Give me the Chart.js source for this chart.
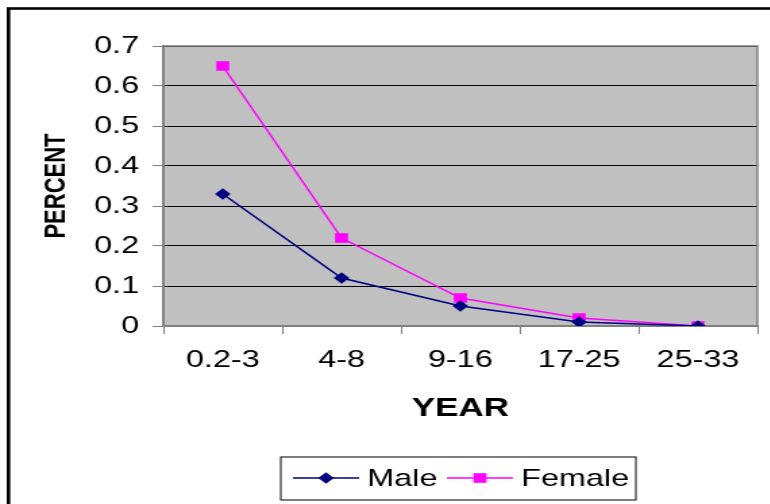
<!DOCTYPE html>
<html>
<head>
<meta charset="utf-8">
<script src="https://cdn.jsdelivr.net/npm/chart.js@4"></script>
<style>
html, body { margin: 0; padding: 0; background: #fff; overflow: hidden; }
/* the reference is horizontally stretched, so the chart is drawn narrow and widened */
#chart { display: block; transform: scaleX(1.35); transform-origin: 0 0; }
</style>
</head>
<body>
<canvas id="chart" width="570" height="504"></canvas>
<script>
const categories = ['0.2-3', '4-8', '9-16', '17-25', '25-33'];
const maleValues = [0.33, 0.12, 0.05, 0.01, 0.0];
const femaleValues = [0.65, 0.22, 0.07, 0.02, 0.0];
const yTickValues = [0, 0.1, 0.2, 0.3, 0.4, 0.5, 0.6, 0.7];

const FONT = '"Liberation Sans", Arial, sans-serif';

const plotBackground = {
    id: 'plotBackground',
    beforeDraw(chart) {
        const { ctx, chartArea: a } = chart;
        ctx.save();
        ctx.fillStyle = '#fff';
        ctx.fillRect(0, 0, chart.width, chart.height);
        ctx.strokeStyle = '#000';
        ctx.lineWidth = 2.6;
        ctx.strokeRect(6.3, 8.5, chart.width + 20, chart.height + 20);
        ctx.fillStyle = '#c0c0c0';
        ctx.fillRect(a.left, a.top, a.right - a.left, a.bottom - a.top);
        ctx.restore();
    },
    beforeDatasetsDraw(chart) {
        const { ctx, chartArea: a } = chart;
        ctx.save();
        ctx.strokeStyle = '#808080';
        ctx.lineWidth = 1.5;
        ctx.beginPath();
        ctx.moveTo(a.left, a.top);
        ctx.lineTo(a.right, a.top);
        ctx.lineTo(a.right, a.bottom);
        ctx.stroke();
        ctx.restore();
    }
};

const boxLegend = {
    id: 'boxLegend',
    afterDraw(chart) {
        const ctx = chart.ctx;
        ctx.save();
        ctx.strokeStyle = '#000';
        ctx.lineWidth = 1;
        ctx.strokeRect(208, 457, 263, 43);
        const starts = [217, 331];
        chart.data.datasets.forEach((ds, i) => {
            const x = starts[i], y = 478;
            ctx.strokeStyle = ds.borderColor;
            ctx.lineWidth = ds.borderWidth;
            ctx.beginPath();
            ctx.moveTo(x, y);
            ctx.lineTo(x + 49, y);
            ctx.stroke();
            ctx.fillStyle = ds.backgroundColor;
            ctx.strokeStyle = ds.borderColor;
            Chart.helpers.drawPoint(ctx, {
                pointStyle: ds.pointStyle, radius: ds.pointRadius, rotation: 0, borderWidth: 0
            }, x + 24.5, y);
            ctx.fillStyle = '#000';
            ctx.font = '24px ' + FONT;
            ctx.textBaseline = 'middle';
            ctx.fillText(ds.label, x + 55, y + 1);
        });
        ctx.restore();
    }
};

new Chart(document.getElementById('chart'), {
    type: 'line',
    data: {
        labels: categories,
        datasets: [
            {
                label: 'Male',
                data: maleValues,
                borderColor: '#000080',
                backgroundColor: '#000080',
                borderWidth: 1.5,
                pointStyle: 'rectRot',
                pointRadius: 5.8,
                pointBorderWidth: 0,
                tension: 0
            },
            {
                label: 'Female',
                data: femaleValues,
                borderColor: '#ff00ff',
                backgroundColor: '#ff00ff',
                borderWidth: 1.5,
                pointStyle: 'rect',
                pointRadius: 6.8,
                pointBorderWidth: 0,
                tension: 0
            }
        ]
    },
    options: {
        responsive: false,
        animation: false,
        layout: { padding: { left: 0, top: 46, right: 9, bottom: 0 } },
        plugins: { legend: { display: false }, tooltip: { enabled: false } },
        scales: {
            x: {
                offset: true,
                grid: { drawOnChartArea: false, offset: true, tickLength: 8, tickColor: '#808080', lineWidth: 1 },
                border: { color: '#808080', width: 2 },
                ticks: { color: '#000', font: { family: FONT, size: 24 }, padding: 12, maxRotation: 0 },
                title: {
                    display: true, text: 'YEAR', color: '#000',
                    font: { family: FONT, size: 26, weight: 'bold' },
                    padding: { top: 0, bottom: 80 }
                },
                afterFit: s => { s.height = 178; }
            },
            y: {
                min: 0,
                max: 0.7,
                afterBuildTicks: s => { s.ticks = yTickValues.map(v => ({ value: v })); },
                grid: { color: '#000', tickColor: '#808080', lineWidth: 1, tickLength: 8 },
                border: { color: '#808080', width: 2 },
                ticks: {
                    color: '#000', font: { family: FONT, size: 24 }, padding: 10,
                    callback: v => (v === 0 ? '0' : v.toFixed(1))
                },
                title: {
                    display: true, text: 'PERCENT', color: '#000',
                    font: { family: FONT, size: 22, weight: 'bold' },
                    padding: { top: 29, bottom: 0 }
                },
                afterFit: s => { s.width = 121; }
            }
        }
    },
    plugins: [plotBackground, boxLegend]
});
</script>
</body>
</html>
